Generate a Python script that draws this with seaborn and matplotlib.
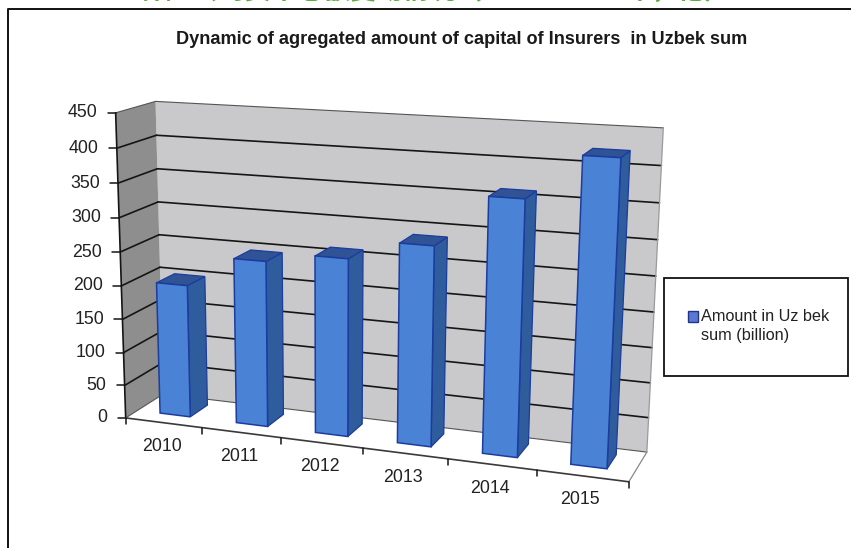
import matplotlib
matplotlib.use("Agg")
import matplotlib.pyplot as plt
import numpy as np
import pandas as pd
import seaborn as sns
from matplotlib.patches import Patch, Rectangle
from matplotlib.transforms import IdentityTransform, Transform

# data
years = ["2010", "2011", "2012", "2013", "2014", "2015"]
amounts = [199, 245, 259, 287, 360, 422]
y_ticks = [0, 50, 100, 150, 200, 250, 300, 350, 400, 450]

title = "Dynamic of agregated amount of capital of Insurers  in Uzbek sum"
top_text = "保险公司资本总额变动情况（2010—2015年，亿）"
legend_label = "Amount in Uz bek\nsum (billion)"

W, H = 851, 548

# where the 3d box sits in the picture: category edge, value, depth -> pixel
calib_pts = [
    (-0.5, 0, 0, 128, 417), (0.5, 0, 0, 203, 427), (1.5, 0, 0, 281, 438),
    (2.5, 0, 0, 363, 448), (3.5, 0, 0, 448, 459), (4.5, 0, 0, 537, 471),
    (5.5, 0, 0, 629, 482), (-0.5, 450, 0, 115, 113), (-0.5, 250, 0, 118, 252),
    (-0.5, 0, 1, 161, 395), (5.5, 0, 1, 647, 451), (-0.5, 450, 1, 157, 101),
    (5.5, 450, 1, 663, 128), (5.5, 250, 1, 656, 276), (-0.5, 250, 1, 160, 235),
]


def fit_projection(pts):
    rows, rhs = [], []
    for x, v, w, px, py in pts:
        x, v = x / 6, v / 450
        rows.append([x, v, w, 1, 0, 0, 0, 0, -px * x, -px * v, -px * w])
        rhs.append(px)
        rows.append([0, 0, 0, 0, x, v, w, 1, -py * x, -py * v, -py * w])
        rhs.append(py)
    sol = np.linalg.lstsq(np.array(rows, float), np.array(rhs, float), rcond=None)[0]
    return np.append(sol, 1).reshape(3, 4)


PROJ = fit_projection(calib_pts)


def to_display(x, v, w):
    x, v, w = np.broadcast_arrays(np.asarray(x, float), np.asarray(v, float), np.asarray(w, float))
    pts = np.stack([x / 6, v / 450, w, np.ones_like(x)], axis=-1) @ PROJ.T
    px = pts[..., 0] / pts[..., 2]
    py = pts[..., 1] / pts[..., 2]
    return np.stack([px, H - py], axis=-1)


class DepthPlane(Transform):
    # data coords (category, value) on a plane at fixed depth -> display pixels
    input_dims = 2
    output_dims = 2
    is_separable = False
    has_inverse = False

    def __init__(self, plane_w):
        super().__init__()
        self.plane_w = plane_w

    def transform_non_affine(self, values):
        values = np.asarray(values, float)
        return to_display(values[:, 0], values[:, 1], self.plane_w)


sns.set_theme(style="white")
plt.rcParams["font.family"] = ["Liberation Sans", "Noto Sans CJK SC", "DejaVu Sans"]

fig = plt.figure(figsize=(W / 100, H / 100), dpi=100)
ax = fig.add_axes([0, 0, 1, 1])

df = pd.DataFrame({"year": years, "amount": amounts})
sns.barplot(data=df, x="year", y="amount", ax=ax, width=0.4, color="#4a82d6", saturation=1, zorder=5)
bars = list(ax.patches)
ax.set_axis_off()

pix = IdentityTransform()
x0, x1 = -0.5, 5.5
top_v = y_ticks[-1]

# walls and floor
ax.fill(*to_display([x0, x1, x1, x0], [0, 0, top_v, top_v], 1).T, color="#c9c9cb", transform=pix, zorder=1, lw=0)
ax.fill(*to_display(x0, [0, 0, top_v, top_v], [0, 1, 1, 0]).T, color="#8e8e8e", transform=pix, zorder=1, lw=0)
ax.fill(*to_display([x0, x1, x1, x0], 0, [0, 0, 1, 1]).T, color="white", transform=pix, zorder=1, lw=0)

back = DepthPlane(1)
for v in y_ticks:
    lw = 0.8 if v in (0, top_v) else 1.2
    col = "#555555" if v in (0, top_v) else "#151515"
    ax.plot([x0, x1], [v, v], color=col, lw=lw, transform=back, zorder=2)
    ax.plot(*to_display(x0, v, [0, 1]).T, color=col, lw=lw, transform=pix, zorder=2)
    # outer tick and value label
    tick = to_display(x0, v, 0)
    ax.plot([tick[0] - 8, tick[0]], [tick[1], tick[1]], color="#151515", lw=1.1, transform=pix, zorder=3)
    ax.annotate(str(v), xy=tick, xycoords=pix, xytext=(tick[0] - 18, tick[1]), textcoords=pix,
                ha="right", va="center", fontsize=12.8, color="#222222")
ax.plot(*to_display([x1, x1], [0, top_v], 1).T, color="#9a9a9a", lw=0.9, transform=pix, zorder=2)
ax.plot(*to_display(x1, 0, [0, 1]).T, color="#888888", lw=0.9, transform=pix, zorder=2)

# axis line with its ticks
ax.plot(*to_display(x0, [0, top_v], 0).T, color="#151515", lw=1.2, transform=pix, zorder=3)
ax.plot(*to_display([x0, x1], 0, 0).T, color="#3a3a3a", lw=1.2, transform=pix, zorder=3)
for k in range(len(years) + 1):
    tick = to_display(x0 + k, 0, 0)
    ax.plot([tick[0], tick[0]], [tick[1], tick[1] - 6], color="#151515", lw=1.1, transform=pix, zorder=3)
for k, year in enumerate(years):
    tick = to_display(k, 0, 0)
    ax.annotate(year, xy=tick, xycoords=pix, xytext=(tick[0] - 2, tick[1] - 24), textcoords=pix,
                ha="center", va="center", fontsize=12.8, color="#222222")

# bars: seaborn's rectangles go on the front plane, side and top are built from them
W_FRONT, W_BACK = 0.31, 0.79
edge = "#1c3c9e"
front_plane = DepthPlane(W_FRONT)
for bar in bars:
    left, right, h = bar.get_x(), bar.get_x() + bar.get_width(), bar.get_height()
    bar.set_transform(front_plane)
    bar.set_clip_on(False)
    bar.set_edgecolor(edge)
    bar.set_linewidth(1.1)
    ax.fill(*to_display(right, [0, 0, h, h], [W_FRONT, W_BACK, W_BACK, W_FRONT]).T, facecolor="#2f5c9c",
            edgecolor=edge, lw=0.9, transform=pix, zorder=4)
    ax.fill(*to_display([left, right, right, left], h, [W_FRONT, W_FRONT, W_BACK, W_BACK]).T, facecolor="#2f5394",
            edgecolor=edge, lw=0.9, transform=pix, zorder=4)

ax.text(462, H - 39, title, transform=pix, ha="center", va="center", fontsize=13.1,
        fontweight="bold", color="#1a1a1a")
ax.text(435, H - 5, top_text, transform=pix, ha="center", va="bottom", fontsize=19,
        fontweight="bold", color="#5aab3a")

# outer frame, open at the right and bottom
ax.plot([7.5, 7.5, W], [0, H - 8.5, H - 8.5], color="#111111", lw=1.4, transform=pix, zorder=6)

# legend box
ax.add_patch(Rectangle((663.5, H - 375.5), 184, 97.5, facecolor="white", edgecolor="#111111", lw=1.3,
                       transform=pix, zorder=6))
handle = Patch(facecolor="#5b78d0", edgecolor="#22348a", label=legend_label)
leg = ax.legend(handles=[handle], loc="center left", bbox_to_anchor=(688, H - 326), bbox_transform=pix,
                frameon=False, fontsize=11.7, handlelength=0.62, handleheight=0.62, handletextpad=0.2,
                labelspacing=0, labelcolor="#222222", borderpad=0, borderaxespad=0)
leg.set_zorder(7)
leg.get_texts()[0].set_linespacing(1.35)
# the square sits beside the first line, not between the two
marker = leg.legend_handles[0]
marker.set_y(marker.get_y() + 7)

fig.savefig("out.png", dpi=100)
